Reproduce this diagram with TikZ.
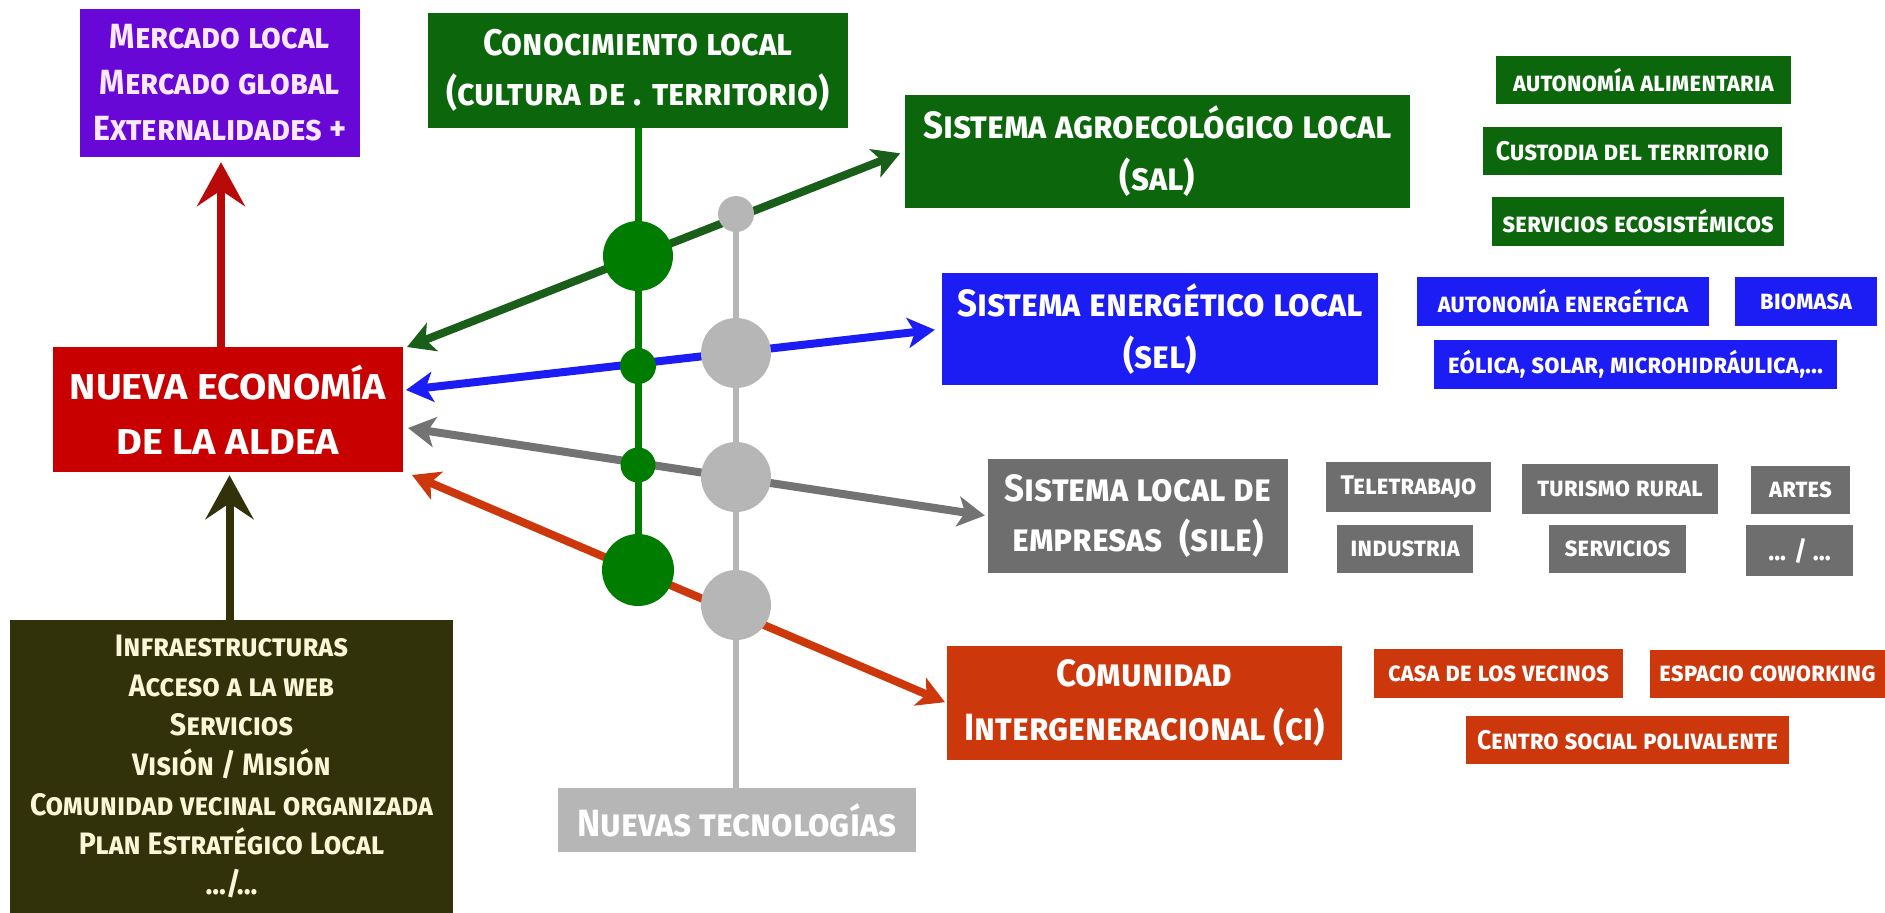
\documentclass[tikz,border=0pt]{standalone}
\usepackage{fontspec}
\setmainfont{Fira Sans}[FakeStretch=0.92]
\newfontfamily\nefont{Fira Sans}[FakeStretch=1.1]
\usetikzlibrary{arrows.meta,calc}
\definecolor{cPurple}{RGB}{104,8,214}
\definecolor{cGreen}{RGB}{12,102,12}
\definecolor{cGreenA}{RGB}{25,95,25}
\definecolor{cGreenL}{RGB}{0,125,0}
\definecolor{cBlue}{RGB}{28,28,245}
\definecolor{cRed}{RGB}{200,0,0}
\definecolor{cRedA}{RGB}{185,10,10}
\definecolor{cGray}{RGB}{110,110,110}
\definecolor{cGrayA}{RGB}{115,115,115}
\definecolor{cLGray}{RGB}{182,182,182}
\definecolor{cOrange}{RGB}{205,55,12}
\definecolor{cOlive}{RGB}{50,50,10}
\definecolor{cCream}{RGB}{250,246,215}
\definecolor{cPink}{RGB}{250,232,255}
\newcommand\fsz[2]{\fontsize{#1}{#2}\selectfont}
\newcommand\mybsc{\bfseries\scshape}
\begin{document}
\begin{tikzpicture}[x=1pt,y=-1pt,
  box/.style={rectangle, inner sep=0pt, align=center, text=white},
  bigbox/.style={box, font=\mybsc\fsz{38}{52}},
  smallbox/.style={box, font=\mybsc\fsz{27}{30}},
  sysarr/.style={line width=8pt, {Stealth[length=27pt,width=30pt,inset=7pt]}-{Stealth[length=27pt,width=30pt,inset=7pt]}},
  uparr/.style={line width=8pt, -{Stealth[length=44pt,width=48pt,inset=16pt]}},
  gdot/.style={circle, fill=cGreenL, inner sep=0pt},
  qdot/.style={circle, fill=cLGray, inner sep=0pt}]
\useasboundingbox (0,0) rectangle (1885,913);
\fill[white] (0,0) rectangle (1885,913);

% main boxes
\node[box, fill=cPurple, text=cPink, minimum width=280pt, minimum height=148pt, font=\mybsc\fsz{35}{46}] (mk) at (220,83)
  {Mercado local\\Mercado global\\Externalidades +};
\node[bigbox, fill=cGreen, minimum width=420pt, minimum height=115pt, font=\mybsc\fsz{37}{50}] (con) at (638,70.5)
  {Conocimiento local\\(cultura de . territorio)};
\node[bigbox, fill=cGreen, minimum width=505pt, minimum height=113pt] (sal) at (1157.5,151.5)
  {Sistema agroecológico local\\(sal)};
\node[bigbox, fill=cBlue, minimum width=436pt, minimum height=112pt] (sel) at (1160,329)
  {Sistema energético local\\(sel)};
\node[box, fill=cRed, minimum width=350pt, minimum height=125pt, font=\nefont\bfseries\fsz{36}{55}] (ne) at (228,409.5)
  {NUEVA ECONOMÍA\\DE LA ALDEA};
\node[bigbox, fill=cGray, minimum width=300pt, minimum height=114pt, font=\mybsc\fsz{38}{50}] (sile) at (1138,516)
  {Sistema local de\\empresas~~(sile)};
\node[bigbox, fill=cOrange, minimum width=395pt, minimum height=114pt, font=\mybsc\fsz{38}{54}] (ci) at (1144.5,703)
  {Comunidad\\Intergeneracional (ci)};
\node[bigbox, fill=cLGray, minimum width=358pt, minimum height=64pt] (nt) at (737,820)
  {Nuevas tecnologías};
\node[box, fill=cOlive, text=cCream, minimum width=443pt, minimum height=293pt, font=\mybsc\fsz{31}{39.7}] (inf) at (231.5,766.5)
  {Infraestructuras\\Acceso a la web\\Servicios\\Visión / Misión\\Comunidad vecinal organizada\\Plan Estratégico Local\\.../...};

% small boxes
\node[smallbox, fill=cGreen, minimum width=295pt, minimum height=48pt] (aa) at (1643.5,80) {autonomía alimentaria};
\node[smallbox, fill=cGreen, minimum width=299pt, minimum height=48pt] (cu) at (1632.5,151) {Custodia del territorio};
\node[smallbox, fill=cGreen, minimum width=292pt, minimum height=49pt] (se) at (1638,221.5) {servicios ecosistémicos};
\node[smallbox, fill=cBlue, minimum width=292pt, minimum height=49pt] (ae) at (1563,301.5) {autonomía energética};
\node[smallbox, fill=cBlue, minimum width=142pt, minimum height=49pt] (bi) at (1806,301.5) {biomasa};
\node[smallbox, fill=cBlue, minimum width=403pt, minimum height=49pt] (eo) at (1635.5,364.5) {eólica, solar, microhidráulica,...};
\node[smallbox, fill=cGray, minimum width=165pt, minimum height=50pt] (te) at (1408.5,487) {Teletrabajo};
\node[smallbox, fill=cGray, minimum width=196pt, minimum height=50pt] (tu) at (1620,489) {turismo rural};
\node[smallbox, fill=cGray, minimum width=99pt, minimum height=48pt] (ar) at (1800.5,490) {artes};
\node[smallbox, fill=cGray, minimum width=136pt, minimum height=48pt] (in) at (1405,549) {industria};
\node[smallbox, fill=cGray, minimum width=137pt, minimum height=48pt] (sv) at (1617.5,549) {servicios};
\node[smallbox, fill=cGray, minimum width=107pt, minimum height=51pt] (dd) at (1799.5,550.5) {... / ...};
\node[smallbox, fill=cOrange, minimum width=249pt, minimum height=49pt] (ca) at (1498.5,673.5) {casa de los vecinos};
\node[smallbox, fill=cOrange, minimum width=235pt, minimum height=48pt] (es) at (1767.5,674) {espacio coworking};
\node[smallbox, fill=cOrange, minimum width=323pt, minimum height=48pt] (cs) at (1627.5,740) {Centro social polivalente};

% free ends at the central box
\coordinate (neA) at (407,347);
\coordinate (neB) at (406,390);
\coordinate (neC) at (408,428);
\coordinate (neD) at (412,475);
% circle centres
\coordinate (g1c) at (638,256);
\coordinate (g2c) at (638,366);
\coordinate (g3c) at (638,465);
\coordinate (g4c) at (638,570);
\coordinate (q0c) at (736,214);
\coordinate (q1c) at (736,353);
\coordinate (q2c) at (736,477);
\coordinate (q3c) at (736,605);

% arrows
\draw[sysarr, cGreenA, shorten >=5pt] (neA) -- (sal.west);
\draw[sysarr, cBlue, shorten >=7pt] (neB) -- (sel.west);
\draw[sysarr, cGrayA, shorten >=3pt] (neC) -- (sile.west);
\draw[sysarr, cOrange, shorten >=2pt] (neD) -- (ci.west);
\draw[uparr, cRedA, shorten >=5pt] ($(ne.north)+(-7,0)$) -- ($(mk.south)+(1,0)$);
\draw[uparr, cOlive, shorten >=3pt] ($(inf.north)+(-2,0)$) -- ($(inf.north |- ne.south)+(-2,0)$);

% vertical lines
\draw[line width=7pt, cGreenL] (g1c |- con.south) -- (g4c);
\draw[line width=6pt, cLGray] (q0c) -- (q0c |- nt.north);

% circles
\node[gdot, minimum size=70pt] (g1) at (g1c) {};
\node[gdot, minimum size=36pt] (g2) at (g2c) {};
\node[gdot, minimum size=35pt] (g3) at (g3c) {};
\node[gdot, minimum size=72pt] (g4) at (g4c) {};
\node[qdot, minimum size=36pt] (q0) at (q0c) {};
\node[qdot, minimum size=70pt] (q1) at (q1c) {};
\node[qdot, minimum size=70pt] (q2) at (q2c) {};
\node[qdot, minimum size=70pt] (q3) at (q3c) {};
\end{tikzpicture}
\end{document}
